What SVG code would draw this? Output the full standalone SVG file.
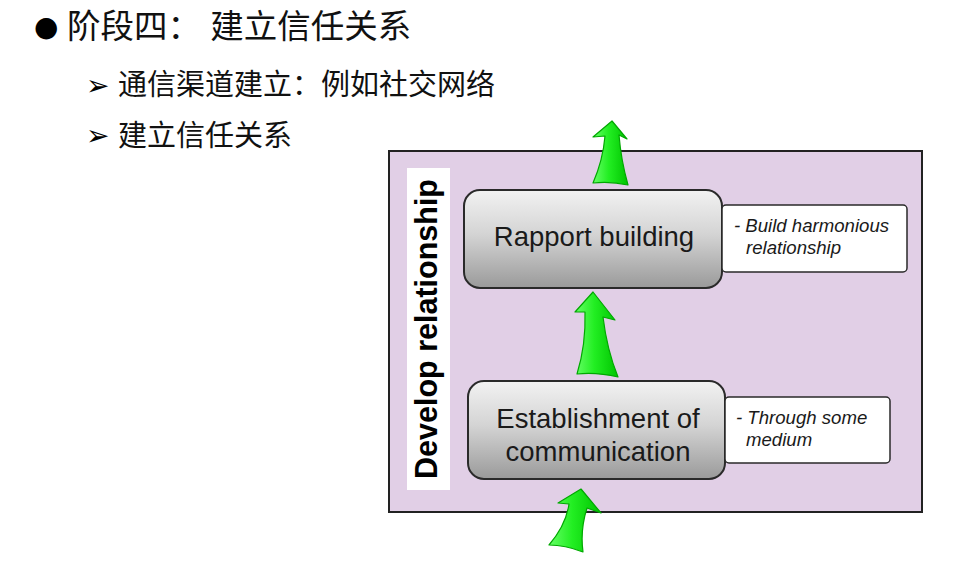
<svg xmlns="http://www.w3.org/2000/svg" width="971" height="571" viewBox="0 0 971 571">
<defs>
<linearGradient id="boxGrad" x1="0" y1="0" x2="0" y2="1">
<stop offset="0" stop-color="#f2f2f2"/>
<stop offset="0.45" stop-color="#d4d4d4"/>
<stop offset="1" stop-color="#9a9a9a"/>
</linearGradient>
<linearGradient id="greenGrad" x1="0" y1="0" x2="1" y2="0">
<stop offset="0" stop-color="#66ff66"/>
<stop offset="0.45" stop-color="#22ee22"/>
<stop offset="1" stop-color="#00c400"/>
</linearGradient>
</defs>
<style>
.cjk{font-family:"Liberation Sans","Noto Sans CJK SC",sans-serif;fill:#111;}
.sym{font-family:"DejaVu Sans","Noto Sans CJK SC",sans-serif;fill:#000;}
.frame{fill:#e1cfe6;stroke:#222;stroke-width:2;}
.strip{fill:#ffffff;}
.vlabel{font-family:"Liberation Sans",Arial,sans-serif;font-weight:bold;font-size:30.5px;fill:#000;}
.box{fill:url(#boxGrad);stroke:#2a2a2a;stroke-width:2;}
.btext{font-family:"Liberation Sans",Arial,sans-serif;font-size:27.5px;fill:#1a1a1a;text-anchor:middle;}
.note{fill:#ffffff;stroke:#2a2a2a;stroke-width:1.5;}
.ntext{font-family:"Liberation Sans",Arial,sans-serif;font-style:italic;font-size:18.6px;fill:#1a1a1a;}
.arrow{fill:url(#greenGrad);stroke:#00a800;stroke-width:1.2;stroke-linejoin:round;}
</style>
<rect width="971" height="571" fill="#ffffff"/>
<g id="header">
<text class="sym" x="34" y="36" font-size="28">●</text>
<text class="cjk" x="67" y="38" font-size="33.5">阶段四： 建立信任关系</text>
<text class="sym" x="86" y="95" font-size="28">➢</text>
<text class="cjk" x="118" y="95" font-size="29">通信渠道建立：例如社交网络</text>
<text class="sym" x="86" y="145" font-size="28">➢</text>
<text class="cjk" x="118" y="146" font-size="29">建立信任关系</text>
</g>
<g id="develop-relationship">
<rect class="frame" x="389" y="151" width="533" height="361"/>
<rect class="strip" x="407" y="168" width="43" height="322"/>
<text class="vlabel" transform="translate(437,329) rotate(-90)" text-anchor="middle">Develop relationship</text>
</g>
<g id="rapport-building">
<rect class="box" x="464" y="190" width="258" height="98" rx="16"/>
<text class="btext" x="594" y="246">Rapport building</text>
</g>
<g id="rapport-note">
<rect class="note" x="722" y="205" width="185" height="67" rx="4"/>
<text class="ntext" x="734" y="232">- Build harmonious</text>
<text class="ntext" x="746" y="254">relationship</text>
</g>
<g id="establishment">
<rect class="box" x="468" y="381" width="257" height="98" rx="16"/>
<text class="btext" x="598" y="428">Establishment of</text>
<text class="btext" x="598" y="461">communication</text>
</g>
<g id="establishment-note">
<rect class="note" x="725" y="397" width="165" height="66" rx="4"/>
<text class="ntext" x="736" y="424">- Through some</text>
<text class="ntext" x="746" y="446">medium</text>
</g>
<g id="connectors">
<path class="arrow" d="M612,121 L627,139 L619,135 Q621,160 628,185 Q610,181 593,183 Q603,160 605,136 L593,137 Z"/>
<path class="arrow" d="M593,292 L615,320 L603,317 Q607,350 618,377 Q597,372 577,374 Q586,345 585,312 L575,312 Z"/>
<path class="arrow" d="M581,489 L601,513 L587,508 Q580,530 583,552 Q565,545 549,545 Q566,525 569,504 L558,503 Z"/>
</g>
</svg>
